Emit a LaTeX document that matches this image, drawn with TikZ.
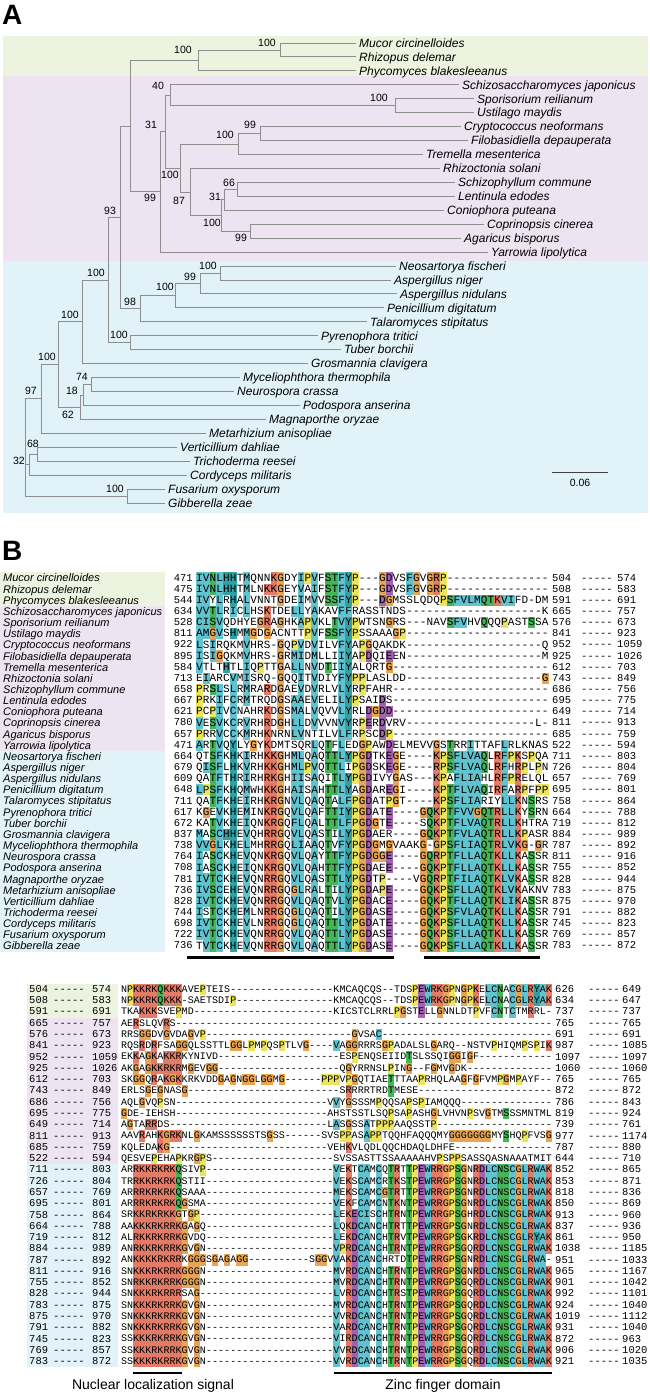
\documentclass[tikz,border=0pt]{standalone}
\usepackage{fontspec}
\setmainfont{Liberation Sans}
\setmonofont{Liberation Mono}
\definecolor{bgmuco}{HTML}{ECF4E0}
\definecolor{bgbasi}{HTML}{EEE3F0}
\definecolor{bgasco}{HTML}{E1F2F8}
\definecolor{treeline}{HTML}{8E8E8E}
\definecolor{hyd}{HTML}{5FC3D0}
\definecolor{aro}{HTML}{30A2A6}
\definecolor{pos}{HTML}{E37B66}
\definecolor{neg}{HTML}{A262B0}
\definecolor{pol}{HTML}{45B556}
\definecolor{gly}{HTML}{E8A553}
\definecolor{pro}{HTML}{ECE45C}

\ExplSyntaxOn
\int_new:N \l__aln_col_int
\tl_new:N \l__aln_spec_tl
\tl_new:N \l__aln_fill_tl
\tl_new:N \l__aln_seq_tl
\tl_new:N \l__aln_left_tl
\tl_new:N \l__aln_right_tl
\tl_new:N \l__aln_y_tl
\tl_new:N \l__aln_ya_tl
\tl_new:N \l__aln_xa_tl
\tl_new:N \l__aln_xc_tl
\seq_new:N \g__aln_A_seq
\seq_new:N \g__aln_B_seq
% residues coloured in each column (G and P always)
\seq_gset_split:Nnn \g__aln_A_seq { , }
 { IVLMAC, IVLM, STNIV, LVIFCM, H, HYIVLFC, x, IVLM, x, x,
   KR, KR, x, x, VLIMFA, VLIMFA, x, AVIML, x, ST,
   ST, LFIV, YF, x, x, DE, x, D, DE, x,
   x, F, x, x, Q, KR, x, ST, F, LVIF,
   LVIF, AM, QN, ST, KR, LFIVM, LIVF, KR, x, S,
   x, x }
\seq_gset_split:Nnn \g__aln_B_seq { , }
 { x, x, KR, KR, KR, KR, KRQ, KR, KR, KRQ,
   x, x, x, x, x, x, x, x, x, x,
   x, x, x, x, x, x, x, x, x, x,
   x, x, x, x, x, VLMIA, x, KR, DE, C,
   AI, x, C, x, T, KR, x, T, x, E,
   W, R, RK, x, x, S, x, x, RK, D,
   L, C, N, S, C, x, L, R, WY, A,
   K }

\cs_new:Npn \dsh #1 { \prg_replicate:nn {#1} { - } }

\cs_new:Npn \__aln_colour:n #1
 {
  \str_case:nnF {#1}
   {
    {A}{hyd} {V}{hyd} {I}{hyd} {L}{hyd} {M}{hyd} {F}{hyd} {W}{hyd} {C}{hyd}
    {H}{aro} {Y}{aro}
    {K}{pos} {R}{pos}
    {D}{neg} {E}{neg}
    {N}{pol} {Q}{pol} {S}{pol} {T}{pol}
    {G}{gly} {P}{pro}
   }
   { white }
 }

\cs_new_protected:Npn \__aln_build:nnn #1#2#3
 {
  \tl_set:Nx \l__aln_left_tl {#2}
  \tl_set:Nx \l__aln_right_tl {#3}
  \tl_set:Nx \l__aln_seq_tl
   {
    \exp_not:V \l__aln_left_tl
    \prg_replicate:nn
     { \int_max:nn { 0 } { #1 - \tl_count:N \l__aln_left_tl - \tl_count:N \l__aln_right_tl } }
     { - }
    \exp_not:V \l__aln_right_tl
   }
 }

\cs_new_protected:Npn \__aln_row:nnnnn #1#2#3#4#5
 {
  \int_zero:N \l__aln_col_int
  \tl_set:Nx \l__aln_ya_tl { \fp_eval:n { #4 - #5 / 2 } }
  \tl_map_inline:Nn \l__aln_seq_tl
   {
    \int_incr:N \l__aln_col_int
    \tl_set:Nx \l__aln_xa_tl { \fp_eval:n { #2 + ( \l__aln_col_int - 1 ) * #3 } }
    \tl_set:Nx \l__aln_xc_tl { \fp_eval:n { #2 + ( \l__aln_col_int - 0.5 ) * #3 } }
    \tl_set:Nx \l__aln_spec_tl { \seq_item:cn { g__aln_#1_seq } { \l__aln_col_int } GP }
    \tl_if_in:NnT \l__aln_spec_tl {##1}
     {
      \tl_set:Nx \l__aln_fill_tl { \__aln_colour:n {##1} }
      \fill [ fill = \l__aln_fill_tl ] ( \l__aln_xa_tl , \l__aln_ya_tl ) rectangle ++ ( #3 , #5 ) ;
     }
    \node [ res#1 ] at ( \l__aln_xc_tl , #4 ) {##1} ;
   }
 }

% upper block: index, species, first, left part, right part, last, next
\NewDocumentCommand \alnA { m m m m m m m }
 {
  \tl_set:Nx \l__aln_y_tl { \fp_eval:n { 578 + 11.15 * (#1) } }
  \node [ lab ] ( labA#1 ) at ( 3 , \l__aln_y_tl ) {#2} ;
  \node [ num , anchor = east ] ( stA#1 ) at ( 193 , \l__aln_y_tl ) {#3} ;
  \__aln_build:nnn { 52 } {#4} {#5}
  \__aln_row:nnnnn { A } { 196 } { 6.78 } { \l__aln_y_tl } { 11.15 }
  \node [ num ] ( enA#1 ) at ( 552 , \l__aln_y_tl ) {#6} ;
  \node [ num ] ( gpA#1 ) at ( 581 , \l__aln_y_tl ) { ----- } ;
  \node [ num ] ( nxA#1 ) at ( 617 , \l__aln_y_tl ) {#7} ;
 }

% lower block: index, previous end, first, left part, right part, last, next
\NewDocumentCommand \alnB { m m m m m m m }
 {
  \tl_set:Nx \l__aln_y_tl { \fp_eval:n { 989.4 + 11.28 * (#1) } }
  \node [ num ] ( pvB#1 ) at ( 29 , \l__aln_y_tl ) {#2} ;
  \node [ num ] ( gqB#1 ) at ( 53 , \l__aln_y_tl ) { ----- } ;
  \node [ num ] ( stB#1 ) at ( 92 , \l__aln_y_tl ) {#3} ;
  \__aln_build:nnn { 71 } {#4} {#5}
  \__aln_row:nnnnn { B } { 121 } { 6.07 } { \l__aln_y_tl } { 11.28 }
  \node [ num ] ( enB#1 ) at ( 555 , \l__aln_y_tl ) {#6} ;
  \node [ num ] ( gpB#1 ) at ( 588 , \l__aln_y_tl ) { ----- } ;
  \node [ num ] ( nxB#1 ) at ( 622 , \l__aln_y_tl ) {#7} ;
 }
\ExplSyntaxOff

\begin{document}
\begin{tikzpicture}[x=1pt,y=-1pt,
  sp/.style={font=\fontsize{12}{14}\selectfont\itshape,anchor=west,inner xsep=3pt,inner ysep=0pt,text height=8.6pt,text depth=0pt},
  bs/.style={font=\fontsize{10.5}{12}\selectfont,inner sep=0pt,text height=7.5pt,text depth=0pt},
  br/.style={draw=treeline,line width=0.9pt},
  lab/.style={font=\fontsize{11}{13}\selectfont\itshape,anchor=west,inner sep=0pt,text height=7.9pt,text depth=0pt},
  num/.style={font=\ttfamily\fontsize{10.5}{10.5}\selectfont,anchor=west,inner sep=0pt,text height=6pt,text depth=0pt},
  resA/.style={font=\ttfamily\fontsize{11}{11}\selectfont,inner sep=0pt,text height=6.3pt,text depth=0pt},
  resB/.style={font=\ttfamily\fontsize{10}{10}\selectfont,inner sep=0pt,text height=5.7pt,text depth=0pt},
  bar/.style={line width=2.6pt},
  captxt/.style={font=\fontsize{14}{16}\selectfont,anchor=base,inner sep=0pt},
  panel/.style={font=\fontsize{28}{28}\selectfont\bfseries,anchor=base west,inner sep=0pt},
]
\useasboundingbox (0,0) rectangle (650,1394);

% ---- A: tree
\node[panel] (pA) at (2,25) {A};
\fill[bgmuco] (3,36) rectangle (648,76);
\fill[bgbasi] (3,76) rectangle (648,261);
\fill[bgasco] (3,261) rectangle (648,513);

\foreach \nm/\x/\yy/\txt in {
  t0/356/43.00/Mucor circinelloides, t1/356/56.94/Rhizopus delemar,
  t2/356/70.88/Phycomyces blakesleeanus, t3/459/84.82/Schizosaccharomyces japonicus,
  t4/474/98.76/Sporisorium reilianum, t5/474/112.70/Ustilago maydis,
  t6/461/126.64/Cryptococcus neoformans, t7/468/140.58/Filobasidiella depauperata,
  t8/423/154.52/Tremella mesenterica, t9/440/168.46/Rhizoctonia solani,
  t10/455/182.40/Schizophyllum commune, t11/455/196.34/Lentinula edodes,
  t12/444/210.28/Coniophora puteana, t13/484/224.22/Coprinopsis cinerea,
  t14/461/238.16/Agaricus bisporus, t15/488/252.10/Yarrowia lipolytica,
  t16/396/266.04/Neosartorya fischeri, t17/391/279.98/Aspergillus niger,
  t18/397/293.92/Aspergillus nidulans, t19/384/307.86/Penicillium digitatum,
  t20/367/321.80/Talaromyces stipitatus, t21/318/335.74/Pyrenophora tritici,
  t22/341/349.68/Tuber borchii, t23/308/363.62/Grosmannia clavigera,
  t24/240/377.56/Myceliophthora thermophila, t25/234/391.50/Neurospora crassa,
  t26/300/405.44/Podospora anserina, t27/266/419.38/Magnaporthe oryzae,
  t28/206/433.32/Metarhizium anisopliae, t29/177/447.26/Verticillium dahliae,
  t30/190/461.20/Trichoderma reesei, t31/187/475.14/Cordyceps militaris,
  t32/165/489.08/Fusarium oxysporum, t33/165/503.02/Gibberella zeae}
  \node[sp] (\nm) at (\x,\yy) {\txt};

\foreach \nm/\x/\yy in {
  nMR/280/49.97, nMuc/198/60.43, nUst/395/105.73, nSch/170/95.28,
  nCF/260/133.61, nTre/238/144.07, nSL/237/189.37, nCon/224/199.83,
  nCA/250/231.19, nAga/221/215.51, nAgr/190/191.99, nBas/180/168.03,
  nB31/165/131.66, nY/160/191.88, nUp/130/126.15,
  nAsp1/220/273.01, nAsp2/200/283.47, nAsp3/175/295.67, nEur/140/308.73,
  n93/120/217.44, nPT/130/342.71, nPez/108/280.08, nGro/82/321.85,
  nMN/91/384.53, nPod/83/394.99, nMag/80/407.18, nSor/58/364.52,
  nMet/41/398.92, nVT/37.5/454.23, nCor/29/464.69, nFG/127/496.05,
  root/25/447.49}
  \coordinate (\nm) at (\x,\yy);

\foreach \a/\b in {
  nMR/t0, nMR/t1, nMuc/nMR, nMuc/t2, nUp/nMuc, nUp/nY,
  nY/nB31, nY/t15, nB31/nSch, nB31/nBas, nSch/t3, nSch/nUst, nUst/t4, nUst/t5,
  nBas/nTre, nBas/nAgr, nTre/nCF, nTre/t8, nCF/t6, nCF/t7,
  nAgr/t9, nAgr/nAga, nAga/nCon, nAga/nCA, nCon/nSL, nCon/t12,
  nSL/t10, nSL/t11, nCA/t13, nCA/t14,
  n93/nUp, n93/nEur, nEur/nAsp3, nEur/t20, nAsp3/nAsp2, nAsp3/t19,
  nAsp2/nAsp1, nAsp2/t18, nAsp1/t16, nAsp1/t17,
  nPez/n93, nPez/nPT, nPT/t21, nPT/t22, nGro/nPez, nGro/t23,
  nSor/nGro, nSor/nMag, nMag/nPod, nMag/t27, nPod/nMN, nPod/t26,
  nMN/t24, nMN/t25, nMet/nSor, nMet/t28,
  root/nMet, root/nCor, root/nFG, nCor/nVT, nCor/t31,
  nVT/t29, nVT/t30, nFG/t32, nFG/t33}
  \draw[br] (\a) |- (\b);

% bootstrap values
\foreach \x/\yy/\v [count=\k] in {
  267/43/100, 183/50/100, 379/98/100, 158/86/40, 151/125/31,
  250/125/99, 225/135/100, 170/175/100, 229/183/66, 215/197/31,
  179/201/87, 212/223/100, 241/238/99, 150/198/99, 110/211/93,
  208/266/100, 190/277/99, 165/287/100, 96/273/100, 130/302/98,
  119/335/100, 70/315/100, 47/357/100, 82/377/74, 72/391/18,
  68/415/62, 31/391/97, 33/444/68, 19/461/32, 115/489/100}
  \node[bs] (bs\k) at (\x,\yy) {\v};

% scale bar
\coordinate (sb1) at (552,472);
\coordinate (sb2) at (608,472);
\draw[line width=0.9pt,black!75] (sb1) -- (sb2);
\node[bs] (sbl) at (580,483) {0.06};

% ---- B: alignment
\node[panel] (pB) at (2,560) {B};
\fill[bgmuco] (0,572.4) rectangle (165,605.9);
\fill[bgbasi] (0,605.9) rectangle (165,750.8);
\fill[bgasco] (0,750.8) rectangle (165,951.5);
\fill[bgmuco] (27,983.8) rectangle (118,1017.6);
\fill[bgbasi] (27,1017.6) rectangle (118,1164.3);
\fill[bgasco] (27,1164.3) rectangle (118,1367.3);

\alnA{0}{Mucor circinelloides}{471}{IVNLHHTMQNNKGDYIPVFSTFYP---GDVSFGVGRP}{}{504}{574}
\alnA{1}{Rhizopus delemar}{475}{IVNLHHTMLNKKGEYVAIFSTFYP---GDVSFGVGRP}{}{508}{583}
\alnA{2}{Phycomyces blakesleeanus}{544}{IVYLRHALVNNTGDEIMVVSSFYP---DGMSSLQDQPSFVLMQTKVIFD-DM}{}{591}{691}
\alnA{3}{Schizosaccharomyces japonicus}{634}{VVTLRICLHSKTDELLYAKAVFFRASSTNDS}{K}{665}{757}
\alnA{4}{Sporisorium reilianum}{528}{CISVQDHYEGRAGHKAPVKLTVYPWTSNGRS}{NAVSFVHVQQQPASTSSA}{576}{673}
\alnA{5}{Ustilago maydis}{811}{AMGVSHMMGDGACNTTPVFSSFYPSSAAAGP}{}{841}{923}
\alnA{6}{Cryptococcus neoformans}{922}{LSIRQKMVHRS-GQPVDVILVFYAPGQAKDK}{Q}{952}{1059}
\alnA{7}{Filobasidiella depauperata}{895}{ISIGQKMVHRS-GRMIDMLLIIYAPDQIEEN}{M}{925}{1026}
\alnA{8}{Tremella mesenterica}{584}{VTLTHTLIQPTTGALLNVDTIIYALQRTG}{}{612}{703}
\alnA{9}{Rhizoctonia solani}{713}{EIARCVMISRQ-GQQITVDIYFYPPLASLDD}{G}{743}{849}
\alnA{10}{Schizophyllum commune}{658}{PRSLSLRMRARDGAEVDVRLVLYRPFAHR}{}{686}{756}
\alnA{11}{Lentinula edodes}{667}{PRKIFCRMTRQDGSAAEVELILYPSAIDS}{}{695}{775}
\alnA{12}{Coniophora puteana}{621}{PCPIVCNAHRKDGSMALVQVVLYRLDGDD}{}{649}{714}
\alnA{13}{Coprinopsis cinerea}{780}{VESVKCRVRHRDGHLLDVVVNVYRPERDVRV}{L-}{811}{913}
\alnA{14}{Agaricus bisporus}{657}{PRRVCCKMRHKNRNLVNTILVLFRPSCDP}{}{685}{759}
\alnA{15}{Yarrowia lipolytica}{471}{ARTVQYLYGYKDMTSQRLQTFLEDGPAWDELMEVVGSTRRITTAFLRLKNAS}{}{522}{594}
\alnA{16}{Neosartorya fischeri}{664}{QTSFKHKIRHKKGHMLQAQTTLYPGDTKEGE}{KPSFLVAQLRFPKSPQA}{711}{803}
\alnA{17}{Aspergillus niger}{679}{QISFLHKVRHKKGHMLPVQTTLIPGDSKEGE}{RPSFLVAQLRFHRPLPN}{726}{804}
\alnA{18}{Aspergillus nidulans}{609}{QATFTHRIRHRKGHIISAQITLYPGDIVYGAS}{KPAFLIAHLRFPRELQL}{657}{769}
\alnA{19}{Penicillium digitatum}{648}{LPSFKHQMWHKKGHAISAHTTLYAGDAREGI}{KPTFLVAQIRFARPFPP}{695}{801}
\alnA{20}{Talaromyces stipitatus}{711}{QATFKHEIRHKRGNVLQAQTALFPGDATPGT}{KPSFLIARIYLLKNSRS}{758}{864}
\alnA{21}{Pyrenophora tritici}{617}{KGEVKHEMINKRGQVLQAFTTIYPGDATE}{GQKPTFVVGQTRLLKYSRN}{664}{788}
\alnA{22}{Tuber borchii}{672}{KATVKHEIQNKRGQFLQALTTLFPGDGTE}{SQKPTFLVAQTRLLKHTRA}{719}{812}
\alnA{23}{Grosmannia clavigera}{837}{MASCHHEVQHRRGQVLQASTILYPGDAER}{GQKPTFVLAQTRLLKPASR}{884}{989}
\alnA{24}{Myceliophthora thermophila}{738}{VVGLKHELMHRRGQLIAAQTVFYPGDGMGVAAKG}{GPSFLIAQTRLVKG-GR}{787}{892}
\alnA{25}{Neurospora crassa}{764}{IASCKHEVQNKRGQVLQAYTTFYPGDGGE}{GQRPTFLLAQTKLLKASSR}{811}{916}
\alnA{26}{Podospora anserina}{708}{IASCKHEIQNKRGQVLQAHTTFYPGDAEE}{GQKPTFLLAQTKLLKASSR}{755}{852}
\alnA{27}{Magnaporthe oryzae}{781}{IVTCKHEVQNRRGQVLQASTTLYPGDTP}{VGQRPTFILAQTKLVKASSR}{828}{944}
\alnA{28}{Metarhizium anisopliae}{736}{IVSCEHEVQNRRGQGLRALTILYPGDAPE}{GQKPSFLLAQTKLVKAKNV}{783}{875}
\alnA{29}{Verticillium dahliae}{828}{IVTCKHEVQNRRGQVLQAQTVLYPGDACE}{GQKPTFLLAQTKLIKASSR}{875}{970}
\alnA{30}{Trichoderma reesei}{744}{ISTCKHEMLNRRGQGLQAQTILYPGDASE}{GQKPSFVLAQTKLLKASSR}{791}{882}
\alnA{31}{Cordyceps militaris}{698}{IVTCKHEVLNRRGQGLQAQTTLYPGDATE}{GQKPSFLLAQTKLLKASSR}{745}{823}
\alnA{32}{Fusarium oxysporum}{722}{IVTCKHEVQNRRGQVLQAQTTLYPGDASE}{GQKPSFLLAQTKLLKASSR}{769}{857}
\alnA{33}{Gibberella zeae}{736}{TVTCKHEVQNRRGQVLQAQTTLYPGDASE}{GQKPSFLLAQTKLLKASSR}{783}{872}

\draw[bar] (187,957.5) -- (394,957.5);
\draw[bar] (424,957.5) -- (540,957.5);

\alnB{0}{504}{574}{NPKKRKQKKKAVEPTEIS}{KMCAQCQS--TDSPEWRKGPNGPKELCNACGLRYAK}{626}{649}
\alnB{1}{508}{583}{NPKKRKQKKK-SAETSDIP}{KMCAQCQS--TDSPEWRKGPNGPKELCNACGLRYAK}{634}{647}
\alnB{2}{591}{691}{TKAKKKSVEPMD}{KICSTCLRRLPGSTELLGNNLDTPVFCNTCTMRRL-}{737}{737}
\alnB{3}{665}{757}{AERSLQVRS}{}{765}{765}
\alnB{4}{576}{673}{RRSGGDVGVDAGVP\dsh{24}GVSAC}{}{691}{691}
\alnB{5}{841}{923}{RQSRDRFSAGGQLSSTTLGGLPMPQSPTLVG}{VAGGRRRSGPADALSLGARQ--NSTVPHIQMPSPIK}{987}{1085}
\alnB{6}{952}{1059}{EKKAGKAKKRKYNIVD\dsh{20}ESPENQSEIIDTSLSSQIGGIGF}{}{1097}{1097}
\alnB{7}{925}{1026}{AKGAGKKRKRMGEVGG\dsh{20}QGYRRNSLPING--FGMVGDK}{}{1060}{1060}
\alnB{8}{612}{703}{SKGGQRAKGKKRKVDDGAGNGGLGGMG}{PPPVPGQTIAETTTAAPRHQLAAGFGFVMPGMPAYF--}{765}{765}
\alnB{9}{743}{849}{ERLSGEGNASG\dsh{25}SRRRRTRDTMESE}{}{872}{872}
\alnB{10}{686}{756}{AQLGVQPSN\dsh{25}VVYGSSSMPQQSAPSPIAMQQQ}{}{786}{843}
\alnB{11}{695}{775}{GDE-IEHSH}{AHSTSSTLSQPSAPASHGLVHVNPSVGTMSSSMNTML}{819}{924}
\alnB{12}{649}{714}{AGTARRDS\dsh{26}LASGSSATPPPAAQSSTP}{}{739}{761}
\alnB{13}{811}{913}{AAVRAHKGRKNLGKAMSSSSSSTSGSS}{SVSPPASAPPTQQHFAQQQMYGGGGGGGMYSHQPFVSG}{977}{1174}
\alnB{14}{685}{759}{KQLEDAKG\dsh{26}VEHKVLQDLQQCHDAQLDHFE}{}{787}{880}
\alnB{15}{522}{594}{QESVEPEHAPKRGPS}{SVSSASTTSSAAAAAHVPSPPSASSQASNAAATMIT}{644}{710}
\alnB{16}{711}{803}{ARRKKRKRKQSIVP}{VEKTCAMCQTRTTPEWRRGPSGNRDLCNSCGLRWAK}{852}{865}
\alnB{17}{726}{804}{TRRKKRKRKQSTII}{VEKSCAMCRTKSTPEWRRGPSGNRDLCNSCGLRWAK}{853}{871}
\alnB{18}{657}{769}{ARRRKRKRKQSAAA}{MEKSCAMCGTRTTPEWRRGPSGNRDLCNSCGLRWAK}{818}{836}
\alnB{19}{695}{801}{ARRRKRKRKQGSMA}{VEKFCAMCNTKNTPEWRRGPSGNRDLCNSCGLRWAK}{850}{869}
\alnB{20}{758}{864}{SRKKRKRKKGTGP}{LEKECISCHTRNTPEWRRGPSGHRDLCNSCGLRWAK}{913}{960}
\alnB{21}{664}{788}{AAKKKRKRRKGAGQ}{LQKDCANCHTRTTPEWRRGPSGNRDLCNSCGLRWAK}{837}{936}
\alnB{22}{719}{812}{ALRKKRKRRKGVDQ}{LEKDCANCHTRVTPEWRRGPSGKRDLCNSCGLRYAK}{861}{950}
\alnB{23}{884}{989}{ANRKKRKRRKGVGN}{VPRDCANCHTRNTPEWRRGPSGQRDLCNSCGLRWAK}{1038}{1185}
\alnB{24}{787}{892}{ANKKKKRKRRKGGGSGAGAGG}{SGGVVAKDCANCHRTDTPEWRRGPSGNRDLCNSCGLRWA-}{951}{1033}
\alnB{25}{811}{916}{SNKKKRKRRKGGGN}{MVRDCANCHTRNTPEWRRGPSGNRDLCNSCGLRWAK}{965}{1167}
\alnB{26}{755}{852}{SNRKKRKRRKGGGN}{MVRDCANCHTRNTPEWRRGPSGQRDLCNSCGLRWAK}{901}{1042}
\alnB{27}{828}{944}{SNKKKRKRRRSAG}{LVRDCANCHTRSTPEWRRGPSGQRDLCNSCGLRWAK}{992}{1101}
\alnB{28}{783}{875}{SNKKKRKRRKGVGN}{MVRDCANCHTRNTPEWRRGPSGQRDLCNSCGLRWAK}{924}{1040}
\alnB{29}{875}{970}{SNKKKRKRRKGVGN}{VVRDCANCHTRNTPEWRRGPSGQRDLCNSCGLRWAK}{1019}{1112}
\alnB{30}{791}{882}{SNKKKRKRRKGVGN}{VARDCANCHTRNTPEWRRGPSGQRDLCNSCGLRWAK}{931}{1040}
\alnB{31}{745}{823}{SSKKKRKRRKGVGN}{VIRDCANCHTRNTPEWRRGPSGQRDLCNSCGLRWAK}{872}{963}
\alnB{32}{769}{857}{SSKKKRKRRKGVGN}{VVRDCANCHTRNTPEWRRGPSGQRDLCNSCGLRWAK}{906}{1020}
\alnB{33}{783}{872}{SSKKKRKRRKGVGN}{VVRDCANCHTRNTPEWRRGPSGQRDLCNSCGLRWAK}{921}{1035}

\draw[bar] (133.1,1373) -- (181.7,1373);
\draw[bar] (333.5,1373) -- (552,1373);
\node[captxt] (nls) at (153,1389) {Nuclear localization signal};
\node[captxt] (znf) at (443,1389) {Zinc finger domain};
\end{tikzpicture}
\end{document}
